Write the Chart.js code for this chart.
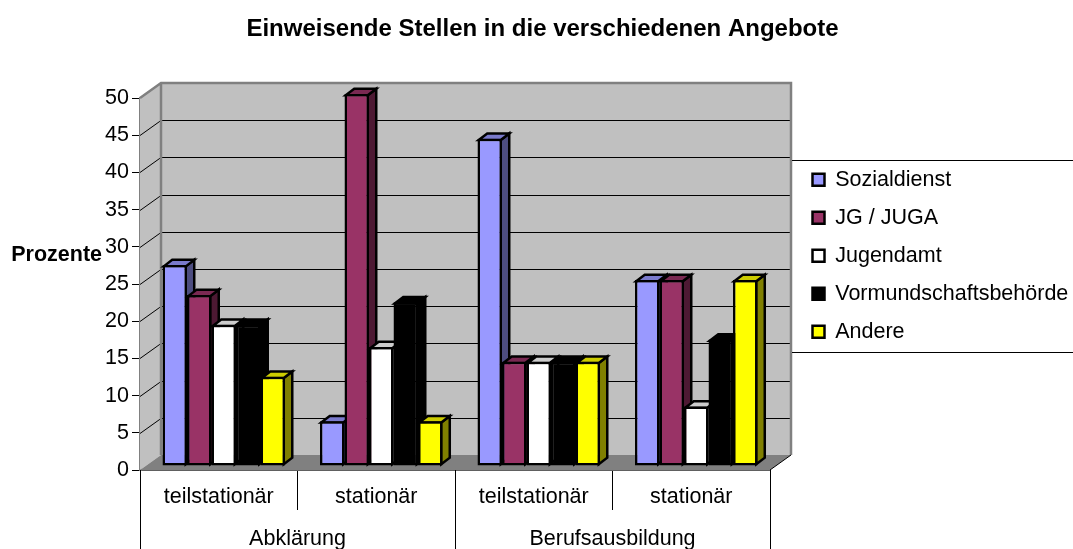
<!DOCTYPE html>
<html>
<head>
<meta charset="utf-8">
<title>Einweisende Stellen</title>
<script src="https://cdn.jsdelivr.net/npm/chart.js@4/dist/chart.umd.min.js"></script>
<style>
  html, body { margin: 0; padding: 0; background: #fff; }
  canvas { display: block; }
</style>
</head>
<body>
<canvas id="chart" width="1073" height="549"></canvas>
<script>
const categories = ['teilstationär', 'stationär', 'teilstationär', 'stationär'];
const groupLabels = ['Abklärung', 'Berufsausbildung'];

const sozialdienst = [27, 6, 44, 25];
const jgJuga = [23, 50, 14, 25];
const jugendamt = [19, 16, 14, 8];
const vormundschaft = [19, 22, 14, 17];
const andere = [12, 6, 14, 25];

const FONT = 'Liberation Sans, Arial, sans-serif';
const DEPTH_X = 21, DEPTH_Y = 15;   // wall depth
const BAR_X = 5, BAR_Y = 4;         // bars stand a bit behind the front edge
const SIDE_X = 8.5, SIDE_Y = 6.5;   // bar depth
const BAR_LINE = 2.5;

function series(label, data, fill, top, side) {
  return {
    label, data,
    backgroundColor: fill,
    borderColor: '#000',
    borderWidth: BAR_LINE,
    borderSkipped: false,
    categoryPercentage: 0.778,
    barPercentage: 1,
    topColor: top,
    sideColor: side,
  };
}

function poly(ctx, pts, fill, stroke, lw) {
  ctx.beginPath();
  pts.forEach((p, i) => i ? ctx.lineTo(p[0], p[1]) : ctx.moveTo(p[0], p[1]));
  ctx.closePath();
  if (fill) { ctx.fillStyle = fill; ctx.fill(); }
  if (stroke) { ctx.strokeStyle = stroke; ctx.lineWidth = lw; ctx.stroke(); }
}

function drawRoom(chart) {
  const { ctx, chartArea: a, scales: { y } } = chart;
  const l = a.left, r = a.right, t = a.top, b = a.bottom;
  const dx = DEPTH_X, dy = DEPTH_Y;
  ctx.save();
  // back wall, side wall, floor
  poly(ctx, [[l + dx, t - dy], [r + dx, t - dy], [r + dx, b - dy], [l + dx, b - dy]], '#c0c0c0');
  poly(ctx, [[l, t], [l + dx, t - dy], [l + dx, b - dy], [l, b]], '#c0c0c0');
  poly(ctx, [[l, b], [l + dx, b - dy], [r + dx, b - dy], [r, b]], '#808080');
  // gridlines
  ctx.strokeStyle = '#000';
  ctx.lineWidth = 1;
  y.ticks.forEach(tk => {
    if (tk.value === 0 || tk.value === 50) return;
    const py = Math.round(y.getPixelForValue(tk.value)) + 0.5;
    ctx.beginPath();
    ctx.moveTo(l, py);
    ctx.lineTo(l + dx, py - dy);
    ctx.lineTo(r + dx, py - dy);
    ctx.stroke();
  });
  // wall outline
  ctx.strokeStyle = '#808080';
  ctx.lineWidth = 2.5;
  ctx.beginPath();
  ctx.moveTo(l, t);
  ctx.lineTo(l + dx, t - dy);
  ctx.lineTo(r + dx, t - dy);
  ctx.lineTo(r + dx, b - dy);
  ctx.moveTo(l + dx, t - dy);
  ctx.lineTo(l + dx, b - dy);
  ctx.stroke();
  ctx.strokeStyle = '#000';
  ctx.lineWidth = 1;
  ctx.beginPath();
  ctx.moveTo(r, b);
  ctx.lineTo(r + dx, b - dy);
  ctx.stroke();
  ctx.restore();
}

function drawFaces(chart, ds, meta) {
  const ctx = chart.ctx;
  const h = BAR_LINE / 2;
  meta.data.forEach(bar => {
    const p = bar.getProps(['x', 'y', 'base', 'width']);
    const x0 = p.x - p.width / 2 + h, x1 = p.x + p.width / 2 - h;
    const yt = p.y + h, yb = p.base - h;
    const sx = SIDE_X, sy = SIDE_Y;
    poly(ctx, [[x1, yt], [x1 + sx, yt - sy], [x1 + sx, yb - sy], [x1, yb]], ds.sideColor, '#000', BAR_LINE);
    poly(ctx, [[x0, yt], [x0 + sx, yt - sy], [x1 + sx, yt - sy], [x1, yt]], ds.topColor, '#000', BAR_LINE);
  });
}

const chart3d = {
  id: 'chart3d',
  afterLayout(chart) {
    // title sits slightly right of the canvas centre, legend in the right gap
    chart.titleBlock.left = 12;
    chart.titleBlock.right = 1073;
    const lg = chart.legend;
    lg.left = 796; lg.right = 1073; lg.top = 152.5; lg.bottom = 540;
  },
  beforeDatasetsDraw(chart) {
    const ctx = chart.ctx;
    drawRoom(chart);
    // bars are moved as a whole into the room and painted left to right
    ctx.save();
    ctx.translate(BAR_X, -BAR_Y);
    chart.data.datasets.forEach((ds, i) => {
      const meta = chart.getDatasetMeta(i);
      drawFaces(chart, ds, meta);
      meta.controller.draw();
    });
    ctx.restore();
    return false;
  },
  afterDraw(chart) {
    const { ctx, chartArea: a, scales: { x } } = chart;
    ctx.save();
    // y axis title
    ctx.fillStyle = '#000';
    ctx.font = 'bold 21.5px ' + FONT;
    ctx.textAlign = 'right';
    ctx.textBaseline = 'middle';
    ctx.fillText('Prozente', 102, 255);
    // second level of the category axis
    ctx.font = '21.5px ' + FONT;
    ctx.textAlign = 'center';
    ctx.textBaseline = 'alphabetic';
    ctx.strokeStyle = '#000';
    ctx.lineWidth = 1;
    const step = x.getPixelForValue(1) - x.getPixelForValue(0);
    groupLabels.forEach((g, i) => {
      const x0 = x.getPixelForValue(i * 2) - step / 2;
      const x1 = x.getPixelForValue(i * 2 + 1) + step / 2;
      ctx.fillText(g, (x0 + x1) / 2, 545);
      [x0, x1].forEach(px => {
        ctx.beginPath();
        ctx.moveTo(Math.round(px) + 0.5, a.bottom);
        ctx.lineTo(Math.round(px) + 0.5, 549);
        ctx.stroke();
      });
    });
    // legend frame
    ctx.beginPath();
    ctx.moveTo(792, 160.5); ctx.lineTo(1073, 160.5);
    ctx.moveTo(792, 352.5); ctx.lineTo(1073, 352.5);
    ctx.stroke();
    ctx.restore();
  },
};

new Chart(document.getElementById('chart').getContext('2d'), {
  type: 'bar',
  data: {
    labels: categories,
    datasets: [
      series('Sozialdienst', sozialdienst, '#9999ff', '#7a7acc', '#4d4d80'),
      series('JG / JUGA', jgJuga, '#993366', '#7a2952', '#4d1933'),
      series('Jugendamt', jugendamt, '#ffffff', '#cccccc', '#808080'),
      series('Vormundschaftsbehörde', vormundschaft, '#000000', '#000000', '#000000'),
      series('Andere', andere, '#ffff00', '#cccc00', '#808000'),
    ],
  },
  options: {
    responsive: false,
    animation: false,
    layout: { padding: { left: 0, right: 303, top: 0, bottom: 0 } },
    plugins: {
      tooltip: { enabled: false },
      title: {
        display: true,
        text: 'Einweisende Stellen in die verschiedenen Angebote',
        color: '#000',
        font: { family: FONT, size: 24, weight: 'bold' },
        padding: { top: 15, bottom: 54.2 },
      },
      legend: {
        display: true,
        position: 'chartArea',
        align: 'start',
        labels: {
          color: '#000',
          font: { family: FONT, size: 21.5 },
          boxWidth: 12,
          boxHeight: 12,
          padding: 16.5,
        },
      },
    },
    scales: {
      x: {
        offset: true,
        afterFit(scale) { scale.height = 79; },
        border: { color: '#606060', width: 2 },
        grid: { offset: true, drawOnChartArea: false, tickColor: '#000', tickLength: 40 },
        ticks: { color: '#000', font: { family: FONT, size: 21.5 }, padding: -26, maxRotation: 0 },
      },
      y: {
        min: 0,
        max: 50,
        afterFit(scale) { scale.width = 140; },
        border: { color: '#808080', width: 2.5 },
        grid: { drawOnChartArea: false, tickColor: '#000', tickLength: 8 },
        ticks: { stepSize: 5, color: '#000', font: { family: FONT, size: 21.5 }, padding: 3 },
      },
    },
  },
  plugins: [chart3d],
});
</script>
</body>
</html>
